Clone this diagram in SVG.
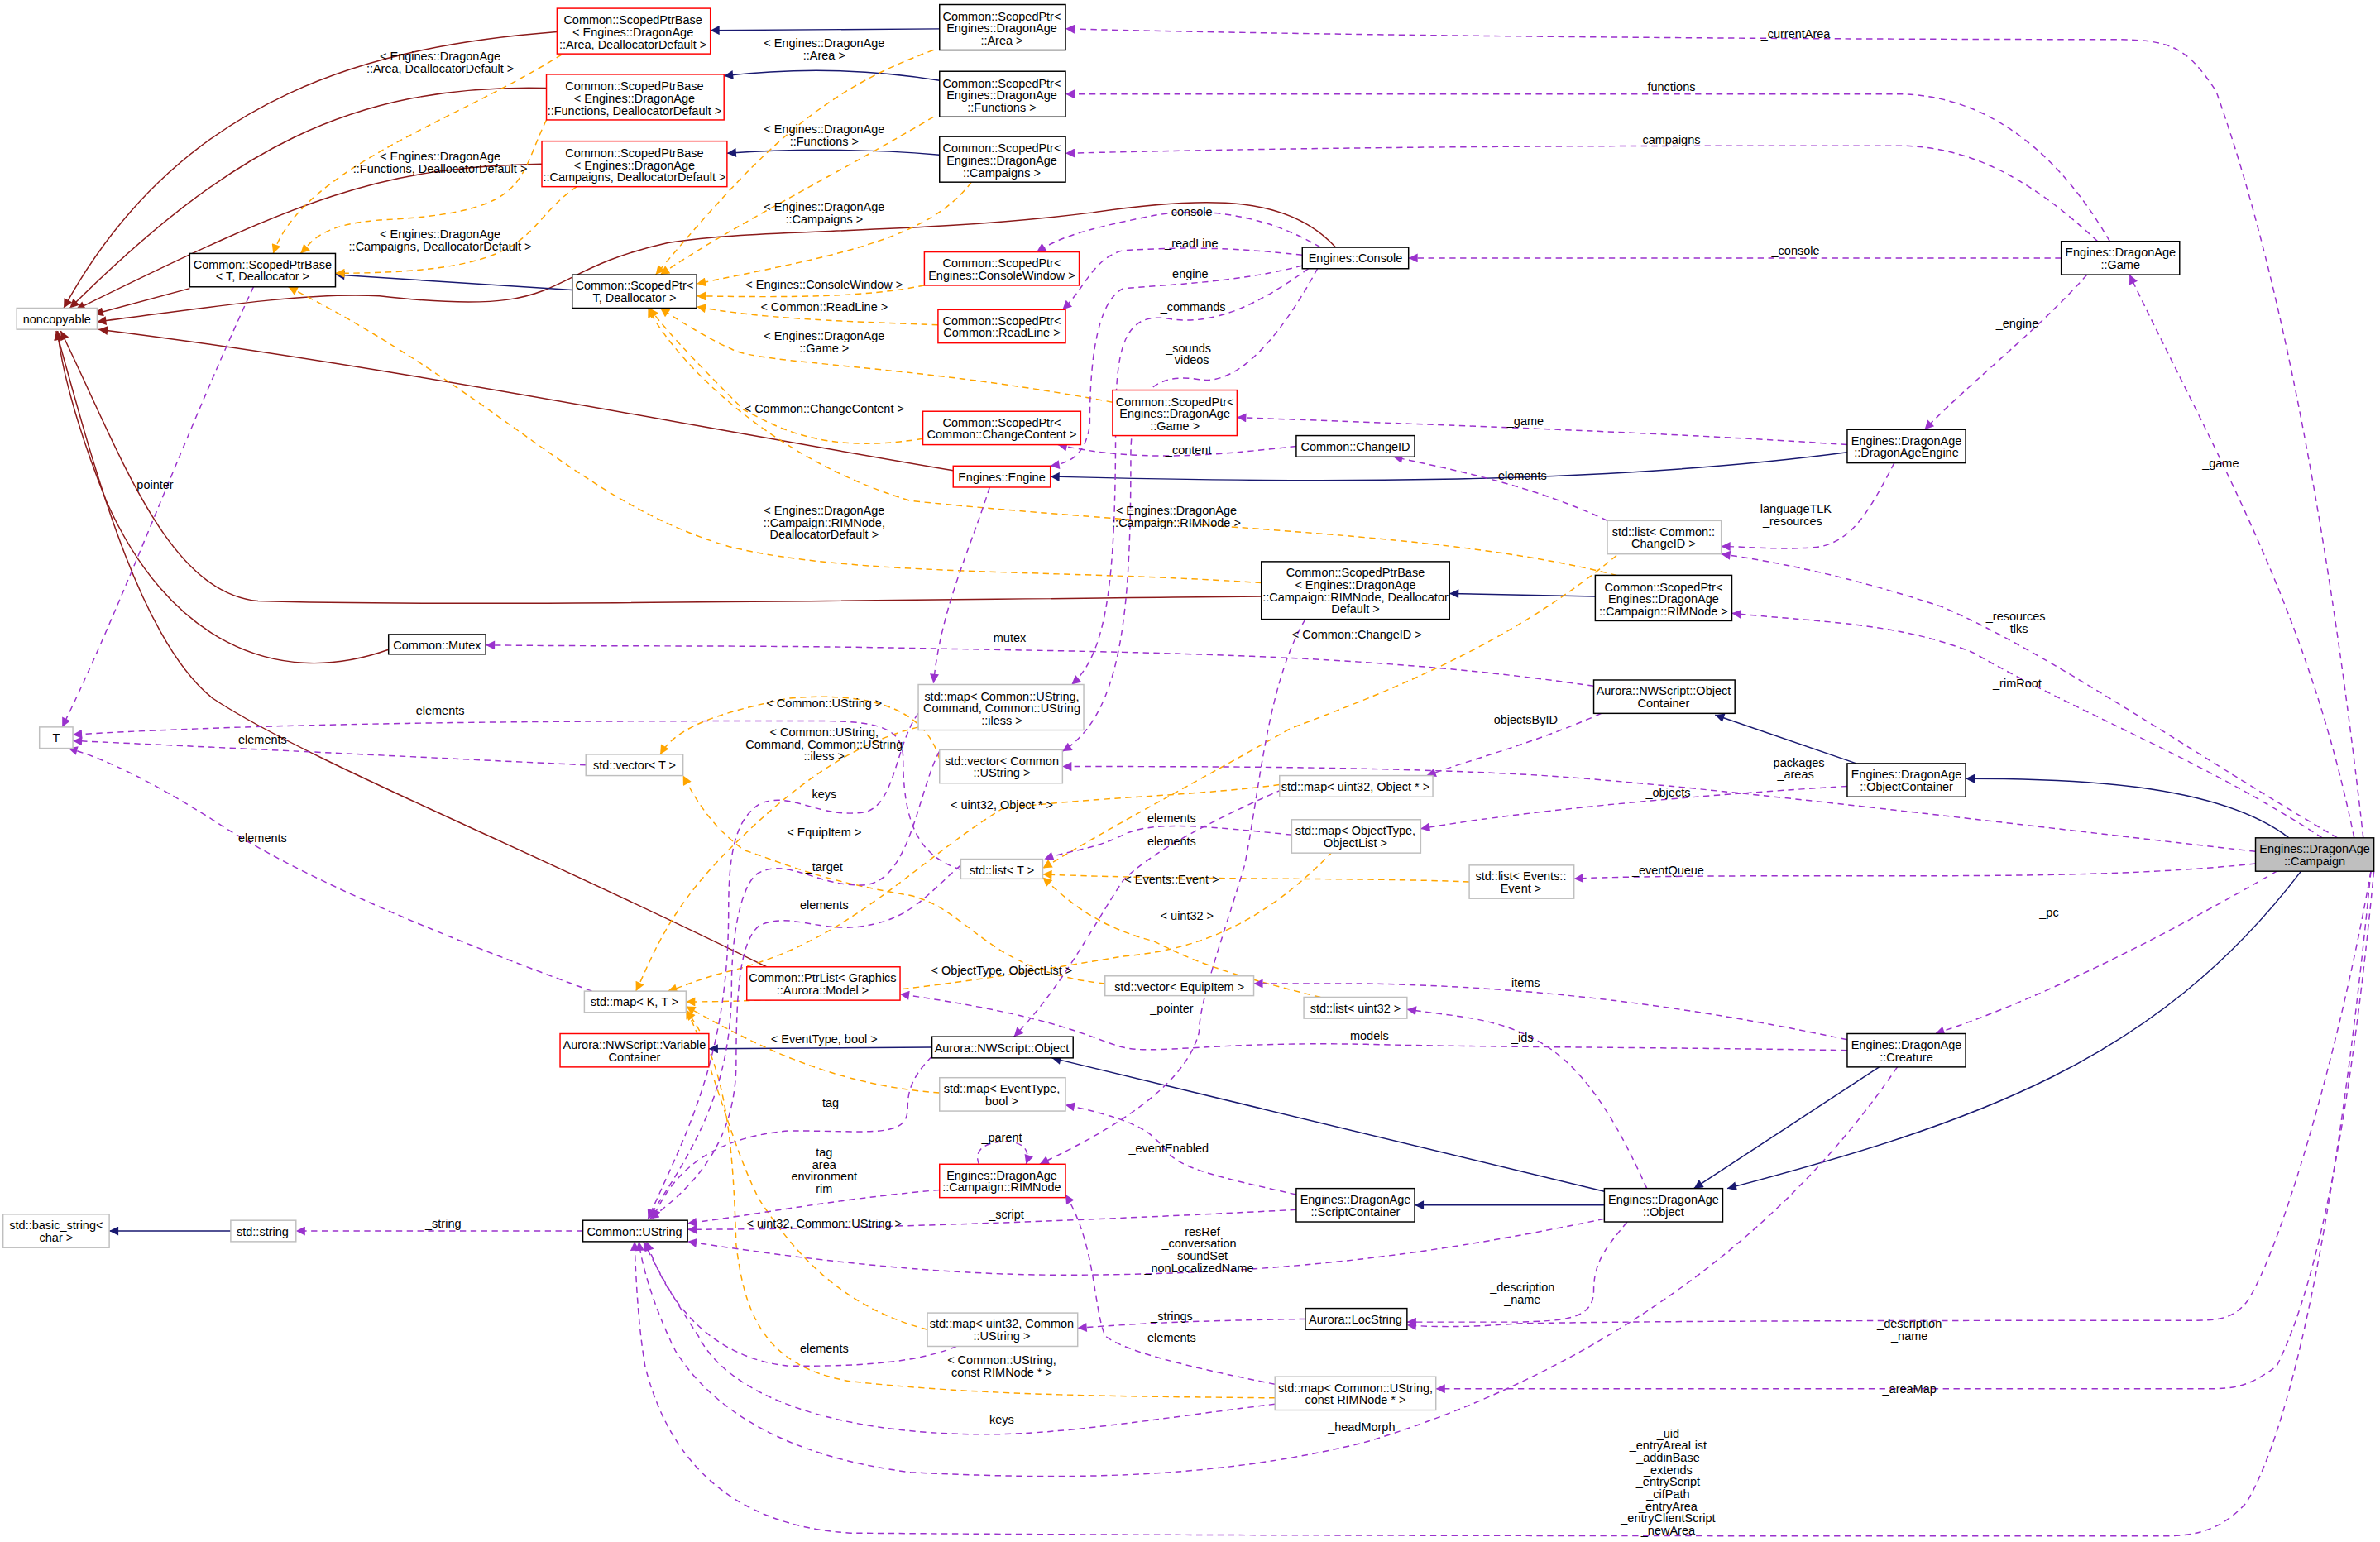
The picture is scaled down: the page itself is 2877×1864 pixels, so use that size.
<svg xmlns="http://www.w3.org/2000/svg" width="2877" height="1864" viewBox="0 0 2877 1864">
<style>
text{font-family:"Liberation Sans",Arial,sans-serif;font-size:7.9px;fill:#000}
.n text{text-anchor:middle}
.l{text-anchor:middle}
rect{stroke-width:0.8}
.b{fill:#fff;stroke:#000}
.r{fill:#fff;stroke:#f00}
.g{fill:#fff;stroke:#bfbfbf}
.e path{fill:none;stroke-width:0.8}
.nv{stroke:#191970;marker-end:url(#an)}
.dr{stroke:#8b1a1a;marker-end:url(#ad)}
.pu{stroke:#9a32cd;stroke-dasharray:4,3;marker-end:url(#ap)}
.or{stroke:#ffa500;stroke-dasharray:4,3;marker-end:url(#ao)}
</style>
<defs>
<marker id="an" markerUnits="userSpaceOnUse" viewBox="0 0 10 10" refX="10" refY="5" markerWidth="7" markerHeight="6" orient="auto"><path d="M0,0L10,5L0,10z" fill="#191970"/></marker>
<marker id="ad" markerUnits="userSpaceOnUse" viewBox="0 0 10 10" refX="10" refY="5" markerWidth="7" markerHeight="6" orient="auto"><path d="M0,0L10,5L0,10z" fill="#8b1a1a"/></marker>
<marker id="ap" markerUnits="userSpaceOnUse" viewBox="0 0 10 10" refX="10" refY="5" markerWidth="7" markerHeight="6" orient="auto"><path d="M0,0L10,5L0,10z" fill="#9a32cd"/></marker>
<marker id="ao" markerUnits="userSpaceOnUse" viewBox="0 0 10 10" refX="10" refY="5" markerWidth="7" markerHeight="6" orient="auto"><path d="M0,0L10,5L0,10z" fill="#ffa500"/></marker>
</defs>
<rect width="2877" height="1864" fill="#fff"/>
<g transform="scale(1.8348)">
<g class="e" id="edges">
<path class="dr" d="M367,21C250,30 120,60 42,203"/>
<path class="dr" d="M360,58C230,55 150,100 46,203"/>
<path class="dr" d="M357,108C250,110 200,130 50,204"/>
<path class="dr" d="M125,190L62,207"/>
<path class="dr" d="M880,163C850,130 800,128 720,140C600,155 500,150 440,160C350,180 380,210 250,195C200,192 120,205 64,212"/>
<path class="dr" d="M628,310C450,280 250,240 65,217"/>
<path class="dr" d="M831,393C600,395 300,400 170,396C110,390 80,300 40,218"/>
<path class="dr" d="M256,428C180,455 110,420 70,330C50,280 40,240 38,218"/>
<path class="dr" d="M505,637C350,560 200,500 140,460C90,420 60,300 37,218"/>
<path class="nv" d="M619,19L468,20"/>
<path class="nv" d="M619,53C570,45 520,45 477,50"/>
<path class="nv" d="M619,102C570,98 520,98 479,101"/>
<path class="nv" d="M377,191L221,181"/>
<path class="nv" d="M1217,298C1050,320 850,318 692,314"/>
<path class="nv" d="M1051,393L955,391"/>
<path class="nv" d="M1223,503L1130,471"/>
<path class="nv" d="M1508,552C1460,515 1360,513 1295,513"/>
<path class="nv" d="M614,690L467,691"/>
<path class="nv" d="M1057,785L693,697"/>
<path class="nv" d="M1057,794L932,794"/>
<path class="nv" d="M1238,703L1116,783"/>
<path class="nv" d="M1516,574C1420,700 1300,740 1138,783"/>
<path class="nv" d="M152,811L72,811"/>
<path class="or" d="M370,36C300,80 200,110 180,167"/>
<path class="or" d="M360,79C340,120 350,140 250,145C210,148 205,160 198,167"/>
<path class="or" d="M380,123C340,150 360,180 221,180"/>
<path class="or" d="M831,384C700,375 560,380 480,360C380,330 330,260 190,189"/>
<path class="or" d="M615,33C540,60 500,100 432,181"/>
<path class="or" d="M615,77C560,110 480,150 435,181"/>
<path class="or" d="M640,120C610,160 540,170 459,187"/>
<path class="or" d="M609,188C570,196 520,196 459,195"/>
<path class="or" d="M618,214C560,212 500,210 459,202"/>
<path class="or" d="M733,265C600,240 500,240 482,230C470,225 445,210 435,203"/>
<path class="or" d="M608,289C540,300 510,280 490,270C470,250 440,220 428,203"/>
<path class="or" d="M1065,379C950,350 800,350 600,330C500,300 440,230 427,203"/>
<path class="or" d="M1065,366C1000,420 930,450 850,480C780,520 740,540 687,572"/>
<path class="or" d="M619,500C610,470 580,455 520,460C470,470 445,480 435,497"/>
<path class="or" d="M728,648C650,640 640,600 600,590C540,580 520,570 490,560C470,545 460,530 450,511"/>
<path class="or" d="M605,479C560,490 520,520 480,560C440,600 430,630 419,653"/>
<path class="or" d="M843,517C780,525 720,525 660,533C600,570 560,620 480,640C460,645 450,650 440,653"/>
<path class="or" d="M878,561C840,600 800,625 740,630C650,645 560,660 452,660"/>
<path class="or" d="M619,720C550,715 500,690 452,663"/>
<path class="or" d="M611,876C550,860 520,820 500,790C480,750 470,700 452,665"/>
<path class="or" d="M840,921C750,920 650,920 560,910C500,900 490,860 485,820C483,760 480,700 452,666"/>
<path class="or" d="M968,581C900,578 780,580 687,576"/>
<path class="or" d="M870,657C800,640 780,630 760,620C720,610 700,590 687,578"/>
<path class="pu" d="M1557,552C1540,400 1510,200 1460,60C1440,30 1430,26 1390,26C1200,26 900,24 702,19"/>
<path class="pu" d="M1390,159C1350,90 1300,62 1250,62C1100,62 900,62 702,62"/>
<path class="pu" d="M1382,159C1340,120 1300,96 1250,96C1100,96 900,96 702,101"/>
<path class="pu" d="M1358,170L928,170"/>
<path class="pu" d="M870,163C840,145 800,135 760,142C720,150 700,155 683,166"/>
<path class="pu" d="M858,168C820,164 790,162 740,165C720,170 715,190 700,204"/>
<path class="pu" d="M858,175C820,185 780,187 740,190C720,200 718,250 718,280C715,300 705,305 692,307"/>
<path class="pu" d="M862,177C830,200 800,215 770,210C740,205 735,230 735,280C735,380 730,430 706,451"/>
<path class="pu" d="M868,177C850,210 820,255 790,250C760,245 745,260 745,300C745,400 740,470 700,495"/>
<path class="pu" d="M1217,293C1100,285 950,280 815,275"/>
<path class="pu" d="M1248,305C1230,340 1220,355 1200,360C1180,363 1150,360 1134,360"/>
<path class="pu" d="M1375,181C1340,220 1300,250 1268,283"/>
<path class="pu" d="M854,294C800,300 750,305 697,293"/>
<path class="pu" d="M1059,343C1010,320 960,310 918,301"/>
<path class="pu" d="M1551,552C1520,400 1460,300 1403,181"/>
<path class="pu" d="M1540,552C1450,500 1350,430 1280,400C1220,380 1170,370 1134,365"/>
<path class="pu" d="M1530,552C1450,500 1370,470 1300,430C1250,410 1200,410 1141,404"/>
<path class="pu" d="M1050,452C900,430 750,430 600,427C500,425 400,426 320,425"/>
<path class="pu" d="M167,189C120,290 80,400 41,479"/>
<path class="pu" d="M633,573C610,565 595,550 595,500C595,480 580,475 540,475C400,475 200,475 48,484"/>
<path class="pu" d="M386,504C300,500 200,495 48,488"/>
<path class="pu" d="M390,653C300,620 200,580 140,540C100,515 70,500 45,493"/>
<path class="pu" d="M605,470C590,490 590,530 570,535C540,540 520,520 500,530C485,540 480,560 480,600C480,700 450,750 427,803"/>
<path class="pu" d="M619,495C605,520 600,580 570,583C540,585 520,565 500,575C490,580 482,610 482,650C482,720 455,760 427,803"/>
<path class="pu" d="M633,570C610,590 600,605 570,610C540,615 520,600 500,610C488,620 485,650 485,700C485,750 460,780 428,803"/>
<path class="pu" d="M614,696C600,710 598,720 598,730C598,750 575,745 520,745C460,750 440,780 430,803"/>
<path class="pu" d="M619,784C550,790 500,800 453,806"/>
<path class="pu" d="M854,797C700,805 550,810 453,810"/>
<path class="pu" d="M1057,803C950,825 850,840 700,840C600,840 500,825 453,818"/>
<path class="pu" d="M630,887C600,900 550,900 520,900C470,895 440,860 426,818"/>
<path class="pu" d="M840,925C760,935 700,945 650,945C550,945 480,920 460,880C440,850 430,830 424,818"/>
<path class="pu" d="M1250,703C1150,850 1000,920 900,950C800,975 700,975 600,970C520,960 470,930 445,890C430,860 422,830 421,818"/>
<path class="pu" d="M1562,574C1540,800 1510,940 1480,990C1460,1012 1440,1012 1420,1012C1200,1012 800,1012 560,1010C480,1005 440,960 425,900C420,870 419,840 418,818"/>
<path class="pu" d="M384,811L195,811"/>
<path class="pu" d="M645,767C640,755 655,752 662,752C670,752 680,755 676,767"/>
<path class="pu" d="M860,408C835,450 830,520 820,570C805,620 790,660 790,680C780,720 720,750 685,767"/>
<path class="pu" d="M840,912C780,900 740,890 728,880C720,860 722,820 702,787"/>
<path class="pu" d="M845,520C800,540 760,560 740,580C720,610 700,650 668,683"/>
<path class="pu" d="M851,550C800,545 760,540 740,550C720,560 705,560 688,566"/>
<path class="pu" d="M1055,470C1010,490 970,500 940,511"/>
<path class="pu" d="M1217,518C1100,525 1000,535 936,546"/>
<path class="pu" d="M1486,561C1300,540 1100,515 1000,510C900,505 800,505 700,505"/>
<path class="pu" d="M1486,569C1400,578 1300,577 1200,577C1100,577 1050,578 1037,579"/>
<path class="pu" d="M1500,574C1420,620 1340,660 1275,681"/>
<path class="pu" d="M1217,685C1100,660 1000,650 900,648C860,648 840,648 826,648"/>
<path class="pu" d="M1085,783C1070,750 1050,710 1020,690C990,670 960,670 927,665"/>
<path class="pu" d="M1217,692C1100,690 980,690 900,688C800,686 760,695 740,690C720,685 700,670 593,655"/>
<path class="pu" d="M854,787C800,775 780,770 770,760C760,750 760,740 702,728"/>
<path class="pu" d="M1072,805C1060,820 1050,830 1050,850C1050,870 1030,870 1000,871C960,871 940,871 927,871"/>
<path class="pu" d="M1562,574C1540,700 1500,830 1480,858C1470,870 1460,870 1440,870C1300,870 1100,870 1000,872C960,875 940,874 927,873"/>
<path class="pu" d="M860,869C800,870 760,871 710,875"/>
<path class="pu" d="M1564,574C1550,720 1530,840 1500,900C1480,915 1470,915 1450,915C1250,915 1050,915 946,915"/>
<path class="pu" d="M652,321C640,360 620,400 615,450"/>
</g>
<g id="labels">
<text class="l" x="290" y="40">&lt; Engines::DragonAge</text><text class="l" x="290" y="48">::Area, DeallocatorDefault &gt;</text>
<text class="l" x="290" y="106">&lt; Engines::DragonAge</text><text class="l" x="290" y="114">::Functions, DeallocatorDefault &gt;</text>
<text class="l" x="290" y="157">&lt; Engines::DragonAge</text><text class="l" x="290" y="165">::Campaigns, DeallocatorDefault &gt;</text>
<text class="l" x="543" y="31">&lt; Engines::DragonAge</text><text class="l" x="543" y="39">::Area &gt;</text>
<text class="l" x="543" y="88">&lt; Engines::DragonAge</text><text class="l" x="543" y="96">::Functions &gt;</text>
<text class="l" x="543" y="139">&lt; Engines::DragonAge</text><text class="l" x="543" y="147">::Campaigns &gt;</text>
<text class="l" x="543" y="190">&lt; Engines::ConsoleWindow &gt;</text>
<text class="l" x="543" y="205">&lt; Common::ReadLine &gt;</text>
<text class="l" x="543" y="224">&lt; Engines::DragonAge</text><text class="l" x="543" y="232">::Game &gt;</text>
<text class="l" x="543" y="272">&lt; Common::ChangeContent &gt;</text>
<text class="l" x="543" y="339">&lt; Engines::DragonAge</text><text class="l" x="543" y="347">::Campaign::RIMNode,</text><text class="l" x="543" y="355">DeallocatorDefault &gt;</text>
<text class="l" x="775" y="339">&lt; Engines::DragonAge</text><text class="l" x="775" y="347">::Campaign::RIMNode &gt;</text>
<text class="l" x="894" y="421">&lt; Common::ChangeID &gt;</text>
<text class="l" x="543" y="466">&lt; Common::UString &gt;</text>
<text class="l" x="543" y="485">&lt; Common::UString,</text><text class="l" x="543" y="493">Command, Common::UString</text><text class="l" x="543" y="501">::iless &gt;</text>
<text class="l" x="543" y="526">keys</text>
<text class="l" x="660" y="533">&lt; uint32, Object * &gt;</text>
<text class="l" x="543" y="551">&lt; EquipItem &gt;</text>
<text class="l" x="543" y="574">_target</text>
<text class="l" x="543" y="599">elements</text>
<text class="l" x="660" y="642">&lt; ObjectType, ObjectList &gt;</text>
<text class="l" x="543" y="687">&lt; EventType, bool &gt;</text>
<text class="l" x="545" y="729">_tag</text>
<text class="l" x="660" y="752">_parent</text>
<text class="l" x="543" y="762">tag</text><text class="l" x="543" y="770">area</text><text class="l" x="543" y="778">environment</text><text class="l" x="543" y="786">rim</text>
<text class="l" x="663" y="803">_script</text>
<text class="l" x="543" y="809">&lt; uint32, Common::UString &gt;</text>
<text class="l" x="292" y="809">_string</text>
<text class="l" x="790" y="814">_resRef</text><text class="l" x="790" y="822">_conversation</text><text class="l" x="790" y="830">_soundSet</text><text class="l" x="790" y="838">_nonLocalizedName</text>
<text class="l" x="543" y="891">elements</text>
<text class="l" x="660" y="899">&lt; Common::UString,</text><text class="l" x="660" y="907">const RIMNode * &gt;</text>
<text class="l" x="660" y="938">keys</text>
<text class="l" x="897" y="943">_headMorph</text>
<text class="l" x="1099" y="947">_uid</text><text class="l" x="1099" y="955">_entryAreaList</text><text class="l" x="1099" y="963">_addinBase</text><text class="l" x="1099" y="971">_extends</text><text class="l" x="1099" y="979">_entryScript</text><text class="l" x="1099" y="987">_cifPath</text><text class="l" x="1099" y="995">_entryArea</text><text class="l" x="1099" y="1003">_entryClientScript</text><text class="l" x="1099" y="1011">_newArea</text>
<text class="l" x="1183" y="25">_currentArea</text>
<text class="l" x="1099" y="60">_functions</text>
<text class="l" x="1099" y="95">_campaigns</text>
<text class="l" x="1183" y="168">_console</text>
<text class="l" x="783" y="142">_console</text>
<text class="l" x="785" y="163">_readLine</text>
<text class="l" x="782" y="183">_engine</text>
<text class="l" x="786" y="205">_commands</text>
<text class="l" x="783" y="232">_sounds</text><text class="l" x="783" y="240">_videos</text>
<text class="l" x="1005" y="280">_game</text>
<text class="l" x="783" y="299">_content</text>
<text class="l" x="1003" y="316">elements</text>
<text class="l" x="1329" y="216">_engine</text>
<text class="l" x="1181" y="338">_languageTLK</text><text class="l" x="1181" y="346">_resources</text>
<text class="l" x="1463" y="308">_game</text>
<text class="l" x="1328" y="409">_resources</text><text class="l" x="1328" y="417">_tlks</text>
<text class="l" x="1329" y="453">_rimRoot</text>
<text class="l" x="663" y="423">_mutex</text>
<text class="l" x="100" y="322">_pointer</text>
<text class="l" x="290" y="471">elements</text>
<text class="l" x="173" y="490">elements</text>
<text class="l" x="173" y="555">elements</text>
<text class="l" x="772" y="542">elements</text>
<text class="l" x="772" y="557">elements</text>
<text class="l" x="772" y="582">&lt; Events::Event &gt;</text>
<text class="l" x="782" y="606">&lt; uint32 &gt;</text>
<text class="l" x="772" y="667">_pointer</text>
<text class="l" x="1003" y="477">_objectsByID</text>
<text class="l" x="1183" y="505">_packages</text><text class="l" x="1183" y="513">_areas</text>
<text class="l" x="1099" y="525">_objects</text>
<text class="l" x="1099" y="576">_eventQueue</text>
<text class="l" x="1350" y="604">_pc</text>
<text class="l" x="1003" y="650">_items</text>
<text class="l" x="1003" y="686">_ids</text>
<text class="l" x="900" y="685">_models</text>
<text class="l" x="770" y="759">_eventEnabled</text>
<text class="l" x="1003" y="851">_description</text><text class="l" x="1003" y="859">_name</text>
<text class="l" x="1258" y="875">_description</text><text class="l" x="1258" y="883">_name</text>
<text class="l" x="772" y="870">_strings</text>
<text class="l" x="772" y="884">elements</text>
<text class="l" x="1258" y="918">_areaMap</text>
</g>
<g class="n" id="nSPBArea"><rect class="r" x="367" y="5.5" width="101" height="30"/><text x="417" y="16">Common::ScopedPtrBase</text><text x="417" y="24">&lt; Engines::DragonAge</text><text x="417" y="32">::Area, DeallocatorDefault &gt;</text></g>
<g class="n" id="nSPBFunc"><rect class="r" x="360" y="49" width="117" height="30"/><text x="418" y="59.5">Common::ScopedPtrBase</text><text x="418" y="67.5">&lt; Engines::DragonAge</text><text x="418" y="75.5">::Functions, DeallocatorDefault &gt;</text></g>
<g class="n" id="nSPBCamp"><rect class="r" x="357" y="93" width="122" height="30"/><text x="418" y="103.5">Common::ScopedPtrBase</text><text x="418" y="111.5">&lt; Engines::DragonAge</text><text x="418" y="119.5">::Campaigns, DeallocatorDefault &gt;</text></g>
<g class="n" id="nSPArea"><rect class="b" x="619" y="3" width="83" height="30"/><text x="660" y="13.5">Common::ScopedPtr&lt;</text><text x="660" y="21.5">Engines::DragonAge</text><text x="660" y="29.5">::Area &gt;</text></g>
<g class="n" id="nSPFunc"><rect class="b" x="619" y="47" width="83" height="30"/><text x="660" y="57.5">Common::ScopedPtr&lt;</text><text x="660" y="65.5">Engines::DragonAge</text><text x="660" y="73.5">::Functions &gt;</text></g>
<g class="n" id="nSPCamp"><rect class="b" x="619" y="90" width="83" height="30"/><text x="660" y="100.5">Common::ScopedPtr&lt;</text><text x="660" y="108.5">Engines::DragonAge</text><text x="660" y="116.5">::Campaigns &gt;</text></g>
<g class="n" id="nSPBT"><rect class="b" x="125" y="167" width="96" height="22"/><text x="173" y="177">Common::ScopedPtrBase</text><text x="173" y="185">&lt; T, Deallocator &gt;</text></g>
<g class="n" id="nNoncopy"><rect class="g" x="11" y="203" width="53" height="14"/><text x="37.5" y="213">noncopyable</text></g>
<g class="n" id="nSPT"><rect class="b" x="377" y="181" width="82" height="22"/><text x="418" y="191">Common::ScopedPtr&lt;</text><text x="418" y="199">T, Deallocator &gt;</text></g>
<g class="n" id="nSPCW"><rect class="r" x="609" y="166" width="102" height="22"/><text x="660" y="176">Common::ScopedPtr&lt;</text><text x="660" y="184">Engines::ConsoleWindow &gt;</text></g>
<g class="n" id="nSPRL"><rect class="r" x="618" y="204" width="84" height="22"/><text x="660" y="214">Common::ScopedPtr&lt;</text><text x="660" y="222">Common::ReadLine &gt;</text></g>
<g class="n" id="nSPGame"><rect class="r" x="733" y="257" width="82" height="30"/><text x="774" y="267.5">Common::ScopedPtr&lt;</text><text x="774" y="275.5">Engines::DragonAge</text><text x="774" y="283.5">::Game &gt;</text></g>
<g class="n" id="nSPCC"><rect class="r" x="608" y="271" width="104" height="22"/><text x="660" y="281">Common::ScopedPtr&lt;</text><text x="660" y="289">Common::ChangeContent &gt;</text></g>
<g class="n" id="nEngine"><rect class="r" x="628" y="307" width="64" height="14"/><text x="660" y="317">Engines::Engine</text></g>
<g class="n" id="nMutex"><rect class="b" x="256" y="418" width="64" height="13"/><text x="288" y="428">Common::Mutex</text></g>
<g class="n" id="nT"><rect class="g" x="26" y="479" width="22" height="14"/><text x="37" y="489">T</text></g>
<g class="n" id="nVecT"><rect class="g" x="386" y="497" width="64" height="14"/><text x="418" y="507">std::vector&lt; T &gt;</text></g>
<g class="n" id="nMapCmd"><rect class="g" x="605" y="451" width="109" height="30"/><text x="660" y="461.5">std::map&lt; Common::UString,</text><text x="660" y="469.5">Command, Common::UString</text><text x="660" y="477.5">::iless &gt;</text></g>
<g class="n" id="nVecUS"><rect class="g" x="619" y="494" width="81" height="22"/><text x="660" y="504">std::vector&lt; Common</text><text x="660" y="512">::UString &gt;</text></g>
<g class="n" id="nConsole"><rect class="b" x="858" y="163" width="70" height="14"/><text x="893" y="173">Engines::Console</text></g>
<g class="n" id="nGame"><rect class="b" x="1358" y="159" width="78" height="22"/><text x="1397" y="169">Engines::DragonAge</text><text x="1397" y="177">::Game</text></g>
<g class="n" id="nChangeID"><rect class="b" x="854" y="287" width="78" height="14"/><text x="893" y="297">Common::ChangeID</text></g>
<g class="n" id="nDAE"><rect class="b" x="1217" y="283" width="78" height="22"/><text x="1256" y="293">Engines::DragonAge</text><text x="1256" y="301">::DragonAgeEngine</text></g>
<g class="n" id="nListCID"><rect class="g" x="1059" y="343" width="75" height="22"/><text x="1096" y="353">std::list&lt; Common::</text><text x="1096" y="361">ChangeID &gt;</text></g>
<g class="n" id="nSPBRIM"><rect class="b" x="831" y="370" width="124" height="38"/><text x="893" y="380">Common::ScopedPtrBase</text><text x="893" y="388">&lt; Engines::DragonAge</text><text x="893" y="396">::Campaign::RIMNode, Deallocator</text><text x="893" y="404">Default &gt;</text></g>
<g class="n" id="nSPRIM"><rect class="b" x="1051" y="379" width="90" height="30"/><text x="1096" y="389.5">Common::ScopedPtr&lt;</text><text x="1096" y="397.5">Engines::DragonAge</text><text x="1096" y="405.5">::Campaign::RIMNode &gt;</text></g>
<g class="n" id="nNWOC"><rect class="b" x="1050" y="448" width="93" height="22"/><text x="1096" y="458">Aurora::NWScript::Object</text><text x="1096" y="466">Container</text></g>
<g class="n" id="nMapKT"><rect class="g" x="385" y="653" width="67" height="14"/><text x="418" y="663">std::map&lt; K, T &gt;</text></g>
<g class="n" id="nPtrList"><rect class="r" x="492" y="637" width="101" height="22"/><text x="542" y="647">Common::PtrList&lt; Graphics</text><text x="542" y="655">::Aurora::Model &gt;</text></g>
<g class="n" id="nVarC"><rect class="r" x="369" y="681" width="98" height="22"/><text x="418" y="691">Aurora::NWScript::Variable</text><text x="418" y="699">Container</text></g>
<g class="n" id="nNWObj"><rect class="b" x="614" y="683" width="93" height="14"/><text x="660" y="693">Aurora::NWScript::Object</text></g>
<g class="n" id="nMapEv"><rect class="g" x="619" y="710" width="83" height="22"/><text x="660" y="720">std::map&lt; EventType,</text><text x="660" y="728">bool &gt;</text></g>
<g class="n" id="nRIM"><rect class="r" x="619" y="767" width="83" height="22"/><text x="660" y="777">Engines::DragonAge</text><text x="660" y="785">::Campaign::RIMNode</text></g>
<g class="n" id="nUString"><rect class="b" x="384" y="804" width="69" height="14"/><text x="418" y="814">Common::UString</text></g>
<g class="n" id="nString"><rect class="g" x="152" y="804" width="43" height="14"/><text x="173" y="814">std::string</text></g>
<g class="n" id="nBasic"><rect class="g" x="2" y="800" width="70" height="22"/><text x="37" y="810">std::basic_string&lt;</text><text x="37" y="818">char &gt;</text></g>
<g class="n" id="nMapU32US"><rect class="g" x="611" y="865" width="99" height="22"/><text x="660" y="875">std::map&lt; uint32, Common</text><text x="660" y="883">::UString &gt;</text></g>
<g class="n" id="nListT"><rect class="g" x="633" y="566" width="54" height="13"/><text x="660" y="576">std::list&lt; T &gt;</text></g>
<g class="n" id="nVecEq"><rect class="g" x="728" y="643" width="98" height="13"/><text x="777" y="653">std::vector&lt; EquipItem &gt;</text></g>
<g class="n" id="nMapObj"><rect class="g" x="843" y="511" width="101" height="14"/><text x="893" y="521">std::map&lt; uint32, Object * &gt;</text></g>
<g class="n" id="nMapOT"><rect class="g" x="851" y="540" width="85" height="22"/><text x="893" y="550">std::map&lt; ObjectType,</text><text x="893" y="558">ObjectList &gt;</text></g>
<g class="n" id="nListEv"><rect class="g" x="968" y="570" width="69" height="22"/><text x="1002" y="580">std::list&lt; Events::</text><text x="1002" y="588">Event &gt;</text></g>
<g class="n" id="nDAOC"><rect class="b" x="1217" y="503" width="78" height="22"/><text x="1256" y="513">Engines::DragonAge</text><text x="1256" y="521">::ObjectContainer</text></g>
<g class="n" id="nCampaign"><rect x="1486" y="552" width="78" height="22" fill="#bfbfbf" stroke="#000"/><text x="1525" y="562">Engines::DragonAge</text><text x="1525" y="570">::Campaign</text></g>
<g class="n" id="nListU32"><rect class="g" x="859" y="657" width="68" height="14"/><text x="893" y="667">std::list&lt; uint32 &gt;</text></g>
<g class="n" id="nCreature"><rect class="b" x="1217" y="681" width="78" height="22"/><text x="1256" y="691">Engines::DragonAge</text><text x="1256" y="699">::Creature</text></g>
<g class="n" id="nScriptC"><rect class="b" x="854" y="783" width="78" height="22"/><text x="893" y="793">Engines::DragonAge</text><text x="893" y="801">::ScriptContainer</text></g>
<g class="n" id="nDAObj"><rect class="b" x="1057" y="783" width="78" height="22"/><text x="1096" y="793">Engines::DragonAge</text><text x="1096" y="801">::Object</text></g>
<g class="n" id="nLocStr"><rect class="b" x="860" y="862" width="67" height="14"/><text x="893" y="872">Aurora::LocString</text></g>
<g class="n" id="nMapRIM"><rect class="g" x="840" y="907" width="106" height="22"/><text x="893" y="917">std::map&lt; Common::UString,</text><text x="893" y="925">const RIMNode * &gt;</text></g>
</g>
</svg>
